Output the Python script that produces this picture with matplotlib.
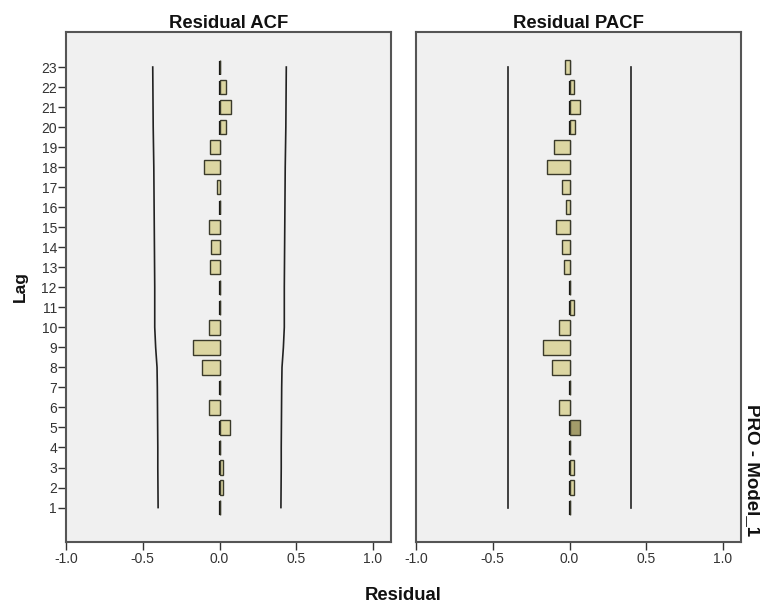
import matplotlib
matplotlib.use("Agg")
import matplotlib.pyplot as plt
import numpy as np

plt.rcParams['font.family'] = ['Liberation Sans', 'DejaVu Sans']

lags = list(range(1, 24))
acf_values = [0.0, 0.024, 0.024, 0.0, 0.069, -0.067, 0.0, -0.117, -0.17, -0.067,
              0.0, 0.0, -0.06, -0.056, -0.068, 0.0, -0.019, -0.10, -0.06, 0.039,
              0.075, 0.045, 0.0]
pacf_values = [0.0, 0.028, 0.028, 0.0, 0.069, -0.069, 0.0, -0.115, -0.171, -0.069,
               0.028, 0.0, -0.037, -0.05, -0.091, -0.026, -0.05, -0.149, -0.10, 0.037,
               0.071, 0.028, -0.03]
acf_limit = [0.400, 0.401, 0.402, 0.402, 0.403, 0.404, 0.405, 0.407, 0.416, 0.422,
             0.422, 0.422, 0.423, 0.424, 0.425, 0.426, 0.427, 0.428, 0.430, 0.432,
             0.433, 0.434, 0.435]
pacf_limit = [0.40] * 23
highlight_lag_pacf = 5

titles = ["Residual ACF", "Residual PACF"]
xticks = [-1.0, -0.5, 0.0, 0.5, 1.0]
xticklabels = ["-1.0", "-0.5", "0.0", "0.5", "1.0"]

fig = plt.figure(figsize=(7.6, 6.05), dpi=100)
fig.patch.set_facecolor('white')

W, H = 760, 605
panels = [(66, 391), (416, 741)]
top, bottom = 32, 542

bar_color = '#DCD6A2'
edge_color = '#3a3a2a'
frame_color = '#555555'

for i, (x0, x1) in enumerate(panels):
    ax = fig.add_axes([x0 / W, 1 - bottom / H, (x1 - x0) / W, (bottom - top) / H])
    ax.set_facecolor('#F0F0F0')
    vals = acf_values if i == 0 else pacf_values
    lim = acf_limit if i == 0 else pacf_limit
    colors = [bar_color] * len(lags)
    if i == 1:
        colors[lags.index(highlight_lag_pacf)] = '#A39C6A'
    ax.barh(lags, vals, height=0.72, color=colors, edgecolor=edge_color, linewidth=1.0, zorder=3)
    ax.plot(lim, lags, color='#222222', lw=1.2, zorder=2)
    ax.plot([-v for v in lim], lags, color='#222222', lw=1.2, zorder=2)
    ax.plot([0, 0], [0.65, 23.45], color='#111111', lw=1.6, dashes=(6.3, 2.7), zorder=2)
    ax.set_xlim(-1.0, 1.117)
    ax.set_ylim(-0.72, 24.75)
    ax.set_xticks(xticks)
    ax.set_xticklabels(xticklabels, fontsize=10, color='#333333')
    ax.set_yticks(lags)
    if i == 0:
        ax.set_yticklabels([str(l) for l in lags], fontsize=10, color='#333333')
        ax.tick_params(axis='y', length=6, width=1, color='#333333', pad=0.5)
    else:
        ax.tick_params(axis='y', left=False, labelleft=False)
    ax.tick_params(axis='x', length=6, width=1, color='#333333', pad=1.5)
    for s in ax.spines.values():
        s.set_color(frame_color)
        s.set_linewidth(1.5)
    ax.set_title(titles[i], fontsize=13.3, fontweight='bold', color='#111111', pad=3)

fig.text(20 / W, 1 - 287 / H, "Lag", rotation=90, ha='center', va='center',
         fontsize=12.5, fontweight='bold', color='#111111')
fig.text(403 / W, 1 - 595 / H, "Residual", ha='center', va='center',
         fontsize=13.3, fontweight='bold', color='#111111')
fig.text(752 / W, 1 - 470 / H, "PRO - Model_1", rotation=-90, ha='center', va='center',
         fontsize=13.5, fontweight='bold', color='#111111')

fig.savefig("out.png", dpi=100)
